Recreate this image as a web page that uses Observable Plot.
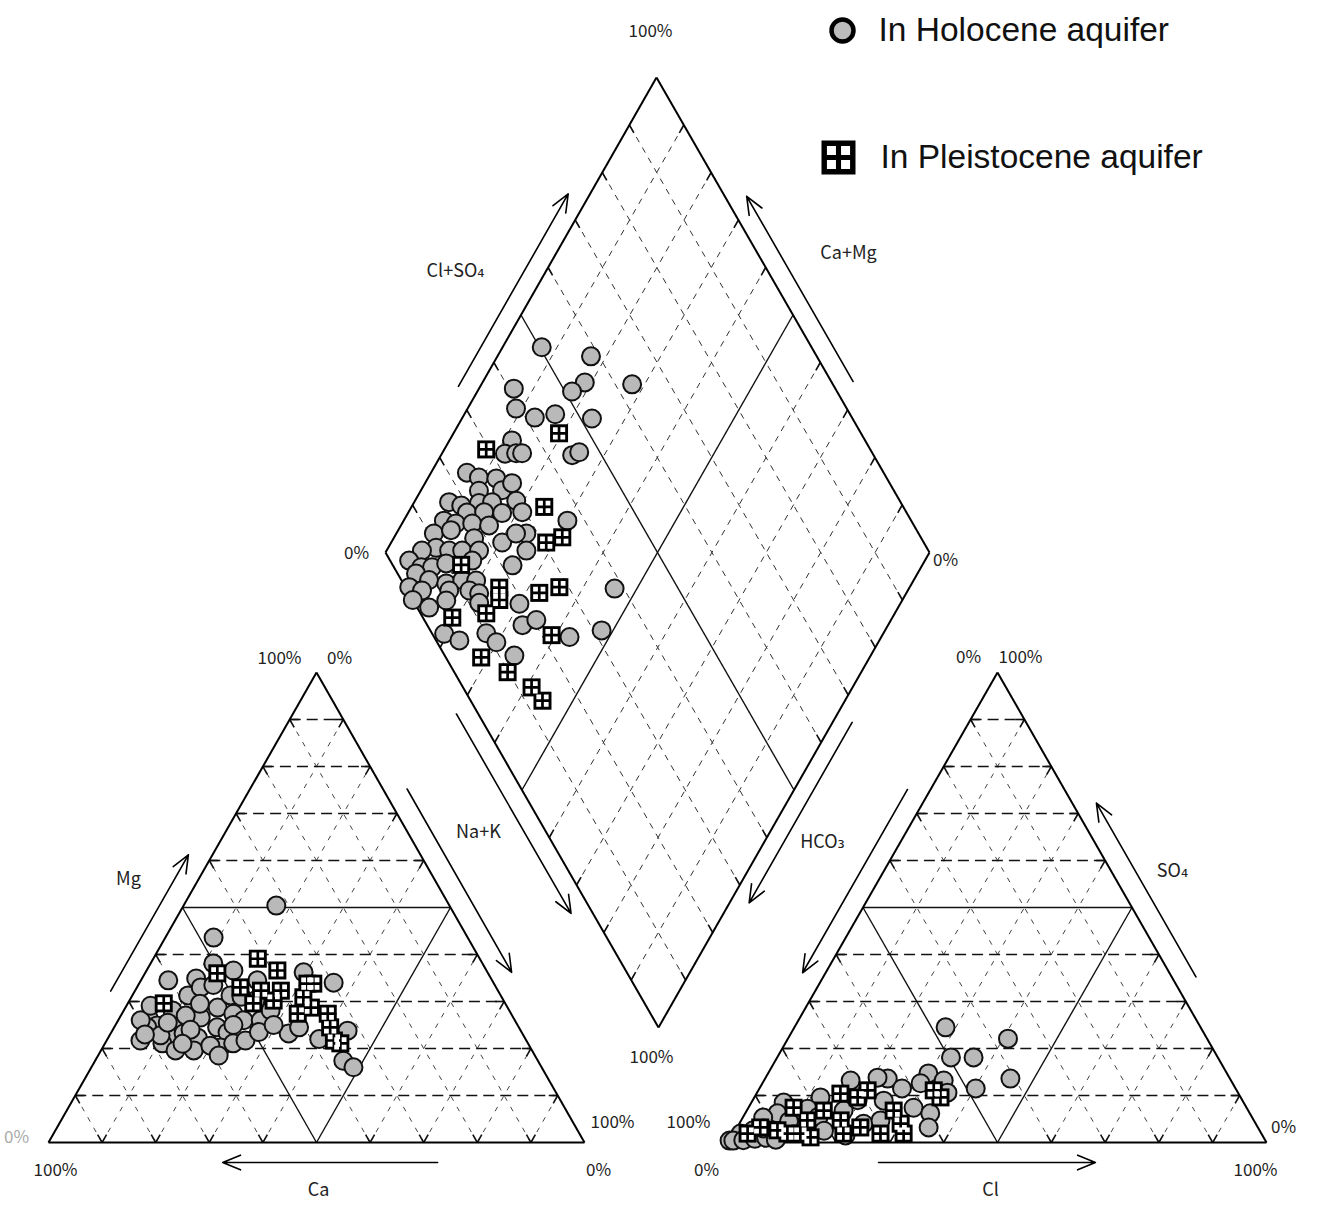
<!DOCTYPE html>
<html><head><meta charset="utf-8">
<script src="https://cdn.jsdelivr.net/npm/d3@7"></script>
<script src="https://cdn.jsdelivr.net/npm/@observablehq/plot@0.6"></script>
<style>
html,body{margin:0;padding:0;background:#fff;}
#chart svg{display:block;}
</style></head><body><div id="chart"></div>
<script>
// ---------------- DATA ----------------
const seriesNames = ["In Holocene aquifer", "In Pleistocene aquifer"];
const pctLabels = ["0%", "100%"];
const cationNames = ["Ca", "Mg", "Na+K"];
const anionNames = ["Cl", "SO₄", "HCO₃"];
const diamondNames = ["Cl+SO₄", "Ca+Mg"];

// Cation triangle: [Ca %, Mg %]  (Na+K = 100 - Ca - Mg)
const cationHolocene = [[32.3,50.4],[47.4,43.6],[60.4,34.5],[55.0,34.9],[29.8,34.0],[34.3,36.2],[68.1,26.4],[67.3,24.9],[66.4,22.8],[62.9,26.0],[58.3,31.3],[55.1,33.0],[50.2,38.1],[47.2,36.6],[54.1,28.7],[58.3,26.6],[63.2,23.2],[61.0,22.3],[56.3,24.5],[51.8,27.4],[50.6,26.0],[54.9,23.4],[57.8,20.2],[55.0,21.1],[63.1,19.6],[68.2,21.1],[69.3,24.5],[69.8,26.0],[43.6,23.2],[47.4,26.0],[32.3,23.8],[36.3,17.4],[35.1,16.0],[43.8,34.5],[66.4,29.1],[62.8,28.1],[67.7,22.8],[66.5,19.6],[59.5,20.6],[52.4,21.7],[46.3,30.2],[44.5,28.1],[72.0,21.7],[60.9,27.0],[50.4,31.3],[70.5,23.0],[65.0,25.5],[61.5,24.0],[57.0,29.5],[53.0,25.0],[59.0,18.5],[64.5,21.0],[49.0,23.5],[45.5,25.0],[41.0,24.5],[38.5,22.0],[52.5,33.5],[48.5,31.0]];
const cationPleistocene = [[41.4,39.1],[39.0,36.6],[50.5,36.0],[47.7,33.0],[44.2,32.3],[40.5,32.3],[42.9,30.2],[47.0,29.6],[34.8,33.8],[33.7,33.8],[37.0,30.9],[36.7,28.7],[39.8,27.4],[34.2,27.4],[35.2,24.5],[35.9,21.7],[35.0,21.1],[63.7,29.6]];

// Anion triangle: [Cl %, SO4 %]  (HCO3 = 100 - Cl - SO4)
const anionHolocene = [[28.1,24.5],[40.9,22.1],[32.3,18.1],[36.5,18.1],[45.6,13.6],[40.2,11.5],[29.8,14.7],[29.4,12.6],[33.4,13.2],[35.4,10.6],[30.7,7.4],[34.4,6.2],[35.6,3.2],[22.8,13.6],[20.8,13.8],[16.1,13.2],[24.4,8.9],[23.1,4.0],[18.0,6.8],[12.3,9.6],[11.1,7.2],[6.0,8.5],[6.0,6.2],[3.8,5.3],[3.3,2.6],[1.3,1.9],[0,0.4],[0.7,0.4],[11.8,3.2],[25.9,4.7],[2.5,0.5],[4.5,0.8],[6.5,1.0],[8.5,0.6],[5.0,3.0],[9.0,4.5],[14.0,5.5],[16.5,2.5],[19.5,9.0],[26.5,11.5],[21.0,1.5]];
const anionPleistocene = [[34.6,9.6],[32.6,11.1],[20.3,11.1],[19.2,9.6],[15.6,10.4],[27.3,6.8],[30.0,4.0],[31.6,1.9],[27.3,1.9],[22.9,3.2],[20.4,1.9],[18.5,4.7],[14.3,6.8],[12.3,4.7],[12.4,1.9],[10.0,1.9],[7.8,2.6],[8.4,7.4],[4.3,3.2],[2.6,1.9],[14.7,1.1]];

// Diamond: [Cl+SO4 %, Ca+Mg %]
const diamondHolocene = [[50.4,92.8],[58.5,82.8],[63.1,72.3],[54.6,81.2],[51.3,82.6],[40.9,93.6],[39.2,91.1],[41.7,86.7],[45.8,83.3],[52.1,76.1],[35.1,88.5],[32.4,88.4],[34.5,86.4],[35.6,85.3],[44.6,75.9],[46.2,74.9],[23.4,93.4],[25.1,90.7],[28.2,87.4],[23.7,89.3],[28.0,85.1],[30.6,84.0],[17.0,93.6],[18.9,91.0],[22.4,88.0],[24.9,85.7],[29.5,81.4],[19.2,89.2],[22.4,86.1],[25.6,82.7],[29.4,79.1],[36.8,69.9],[14.1,92.6],[16.0,90.1],[19.0,87.1],[21.9,83.8],[27.9,76.1],[10.9,93.1],[14.4,90.3],[17.8,85.2],[22.5,79.6],[26.0,78.0],[9.8,91.2],[6.9,93.5],[11.9,88.5],[14.3,86.1],[17.4,83.0],[26.1,74.3],[22.0,75.3],[3.5,94.8],[5.0,91.9],[7.0,89.9],[10.0,87.7],[15.1,83.2],[3.4,92.2],[5.1,89.1],[7.9,85.6],[11.2,83.0],[13.7,80.4],[0.7,92.0],[2.7,89.3],[7.7,84.3],[11.4,80.6],[12.9,78.5],[19.2,70.0],[38.3,54.1],[0,90.0],[2.2,86.2],[6.1,83.8],[11.9,77.5],[17.5,67.2],[20.6,65.2],[2.2,80.7],[4.3,77.2],[10.0,73.0],[10.9,70.2],[24.9,57.3],[31.5,52.1],[12.8,65.5]];
const diamondPleistocene = [[29.4,92.3],[44.5,80.6],[34.0,75.6],[30.6,71.5],[34.1,69.1],[12.6,84.8],[17.2,75.4],[24.0,67.5],[28.3,64.4],[15.9,74.1],[12.1,75.1],[5.4,80.9],[21.8,60.8],[6.5,71.4],[9.8,65.0],[12.6,59.0],[13.2,55.6]];

// ---------------- LAYOUT ----------------
const W = 1317, H = 1205;
const LT = {a:[48,1142], b:[584,1142], c:[316,672]};   // Ca, Na+K, Mg corners
const RT = {a:[728,1142], b:[1266,1142], c:[997,672]}; // HCO3, Cl, SO4 corners
const DM = {B:[658,1027], L:[385,552], R:[929,552]};
DM.T = [DM.L[0] + DM.R[0] - DM.B[0], DM.L[1] + DM.R[1] - DM.B[1]];

const lerp = (p, q, t) => [p[0] + (q[0]-p[0])*t, p[1] + (q[1]-p[1])*t];
const tri = (T, wa, wb, wc) => [T.a[0]*wa + T.b[0]*wb + T.c[0]*wc, T.a[1]*wa + T.b[1]*wb + T.c[1]*wc];
const cationXY = ([ca, mg]) => tri(LT, ca/100, 1 - ca/100 - mg/100, mg/100);
const anionXY = ([cl, so]) => tri(RT, 1 - cl/100 - so/100, cl/100, so/100);
const diamondXY = ([u, v]) => [
  DM.B[0] + u/100*(DM.R[0]-DM.B[0]) + v/100*(DM.L[0]-DM.B[0]),
  DM.B[1] + u/100*(DM.R[1]-DM.B[1]) + v/100*(DM.L[1]-DM.B[1])];

const toPts = (arr, f) => arr.map(d => { const p = f(d); return {x: p[0], y: p[1]}; });
const holo = [...toPts(cationHolocene, cationXY), ...toPts(anionHolocene, anionXY), ...toPts(diamondHolocene, diamondXY)];
const pleis = [...toPts(cationPleistocene, cationXY), ...toPts(anionPleistocene, anionXY), ...toPts(diamondPleistocene, diamondXY)];

// grid segments
const segs = [];
const addSeg = (p, q, kind) => segs.push({x1:p[0], y1:p[1], x2:q[0], y2:q[1], kind});
function grid(p, q, k, kind) {
  if (k === 5) { addSeg(p, q, "solid"); return; }
  addSeg(p, q, kind);
  const len = Math.hypot(q[0]-p[0], q[1]-p[1]);
  const t = 9 / len;
  addSeg(p, lerp(p, q, t), "tick");
  addSeg(q, lerp(q, p, t), "tick");
}
for (let k = 1; k < 10; k++) {
  const f = k/10;
  for (const T of [LT, RT]) {
    grid(tri(T, 1-f, 0, f), tri(T, 0, 1-f, f), k, "h");
    grid(tri(T, f, 1-f, 0), tri(T, f, 0, 1-f), k, "d");
    grid(tri(T, 1-f, f, 0), tri(T, 0, f, 1-f), k, "d");
  }
  grid(diamondXY([k*10, 0]), diamondXY([k*10, 100]), k, "m");
  grid(diamondXY([0, k*10]), diamondXY([100, k*10]), k, "m");
}
// outlines
for (const T of [LT, RT]) { addSeg(T.a, T.b, "edge"); addSeg(T.b, T.c, "edge"); addSeg(T.c, T.a, "edge"); }
addSeg(DM.B, DM.R, "edge"); addSeg(DM.R, DM.T, "edge"); addSeg(DM.T, DM.L, "edge"); addSeg(DM.L, DM.B, "edge");

// arrows parallel to edges, offset outward
function edgeArrow(P, Q, C, t0, t1, off) {
  const dx = Q[0]-P[0], dy = Q[1]-P[1], len = Math.hypot(dx, dy);
  let n = [-dy/len, dx/len];
  const M = lerp(P, Q, 0.5);
  if ((C[0]-M[0])*n[0] + (C[1]-M[1])*n[1] > 0) n = [-n[0], -n[1]];
  const a = lerp(P, Q, t0), b = lerp(P, Q, t1);
  return {x1: a[0] + n[0]*off, y1: a[1] + n[1]*off, x2: b[0] + n[0]*off, y2: b[1] + n[1]*off};
}
const cL = tri(LT, 1/3, 1/3, 1/3), cR = tri(RT, 1/3, 1/3, 1/3), cD = diamondXY([50, 50]);
const arrows = [
  edgeArrow(LT.a, LT.c, cL, 0.30, 0.59, 21),      // Mg
  edgeArrow(LT.c, LT.b, cL, 0.27, 0.66, 21),      // Na+K
  edgeArrow(LT.b, LT.a, cL, 0.274, 0.675, 20),    // Ca
  edgeArrow(RT.a, RT.b, cR, 0.279, 0.682, 20),    // Cl
  edgeArrow(RT.c, RT.a, cR, 0.27, 0.66, 20),      // HCO3
  edgeArrow(RT.b, RT.c, cR, 0.33, 0.70, 21),      // SO4
  edgeArrow(DM.L, DM.T, cD, 0.33, 0.735, 19),     // Cl+SO4
  edgeArrow(DM.R, DM.T, cD, 0.34, 0.73, 19),      // Ca+Mg
  edgeArrow(DM.L, DM.B, cD, 0.32, 0.74, 19),      // Na+K (diamond)
  edgeArrow(DM.R, DM.B, cD, 0.34, 0.72, 17)       // HCO3 (diamond)
];

// percent label placements (index into pctLabels)
const pctPlace = [
  {i:1, x:650, y:31}, {i:0, x:356, y:553}, {i:0, x:945, y:560}, {i:1, x:651, y:1057},
  {i:1, x:279, y:658}, {i:0, x:339, y:658}, {i:0, x:16, y:1137, faint:true},
  {i:1, x:55, y:1170}, {i:0, x:598, y:1170}, {i:1, x:612, y:1122},
  {i:0, x:968, y:657}, {i:1, x:1020, y:657},
  {i:1, x:688, y:1122}, {i:0, x:706, y:1170}, {i:1, x:1255, y:1170}, {i:0, x:1283, y:1127}
].map(d => ({...d, t: pctLabels[d.i]}));
const namePlace = [
  {t: cationNames[0], x:318, y:1190}, {t: cationNames[1], x:128, y:879}, {t: cationNames[2], x:478, y:832},
  {t: anionNames[0], x:990, y:1190}, {t: anionNames[1], x:1172, y:871}, {t: anionNames[2], x:822, y:842},
  {t: diamondNames[0], x:455, y:271}, {t: diamondNames[1], x:848, y:253}
];

// custom symbols
const squareSym = {draw(ctx, size) { const r = Math.sqrt(size/Math.PI); ctx.rect(-r, -r, 2*r, 2*r); }};
const cellsSym = {draw(ctx, size) {
  const r = Math.sqrt(size/Math.PI), o = r*0.68, i = r*0.15, s = o - i;
  ctx.rect(-o, -o, s, s); ctx.rect(i, -o, s, s); ctx.rect(-o, i, s, s); ctx.rect(i, i, s, s);
}};

const legend = [{x:842, y:30, t:seriesNames[0]}, {x:838, y:157, t:seriesNames[1]}];
const labelFont = "'Noto Sans CJK JP', 'DejaVu Sans', sans-serif";

const chart = Plot.plot({
  width: W, height: H, margin: 0,
  x: {domain: [0, W], axis: null},
  y: {domain: [H, 0], axis: null},
  style: {background: "#fff"},
  marks: [
    Plot.link(segs.filter(d => d.kind === "d"), {x1:"x1", y1:"y1", x2:"x2", y2:"y2", stroke:"#444", strokeWidth:1, strokeDasharray:"5,7"}),
    Plot.link(segs.filter(d => d.kind === "m"), {x1:"x1", y1:"y1", x2:"x2", y2:"y2", stroke:"#333", strokeWidth:1, strokeDasharray:"6,6"}),
    Plot.link(segs.filter(d => d.kind === "h"), {x1:"x1", y1:"y1", x2:"x2", y2:"y2", stroke:"#111", strokeWidth:1.6, strokeDasharray:"11,6"}),
    Plot.link(segs.filter(d => d.kind === "tick"), {x1:"x1", y1:"y1", x2:"x2", y2:"y2", stroke:"#111", strokeWidth:1.6}),
    Plot.link(segs.filter(d => d.kind === "solid"), {x1:"x1", y1:"y1", x2:"x2", y2:"y2", stroke:"#111", strokeWidth:1.4}),
    Plot.link(segs.filter(d => d.kind === "edge"), {x1:"x1", y1:"y1", x2:"x2", y2:"y2", stroke:"#000", strokeWidth:2}),
    Plot.arrow(arrows, {x1:"x1", y1:"y1", x2:"x2", y2:"y2", stroke:"#000", strokeWidth:1.6, headLength:18, headAngle:45}),
    Plot.dot(holo, {x:"x", y:"y", r:9, fill:"#b9b9b9", stroke:"#111", strokeWidth:2}),
    Plot.dot(pleis, {x:"x", y:"y", r:9, symbol:squareSym, fill:"#000"}),
    Plot.dot(pleis, {x:"x", y:"y", r:9, symbol:cellsSym, fill:"#fff"}),
    Plot.text(pctPlace, {x:"x", y:"y", text:"t", fontSize:17, fontFamily:labelFont, fill: d => d.faint ? "#aaa" : "#222"}),
    Plot.text(namePlace, {x:"x", y:"y", text:"t", fontSize:18, fontFamily:labelFont, fill:"#222"}),
    // legend
    Plot.dot([legend[0]], {x:"x", y:"y", r:11, fill:"#bdbdbd", stroke:"#000", strokeWidth:4.5}),
    Plot.dot([legend[1]], {x:"x", y:"y", r:17, symbol:squareSym, fill:"#000"}),
    Plot.dot([legend[1]], {x:"x", y:"y", r:17, symbol:cellsSym, fill:"#fff"}),
    Plot.text(legend, {x: d => d.x + (d === legend[0] ? 36 : 42), y:"y", text:"t", textAnchor:"start", fontSize:33.5, fontFamily:"'Liberation Sans', Arial, sans-serif", fill:"#111"})
  ]
});
document.getElementById("chart").appendChild(chart);
</script>
</body></html>
